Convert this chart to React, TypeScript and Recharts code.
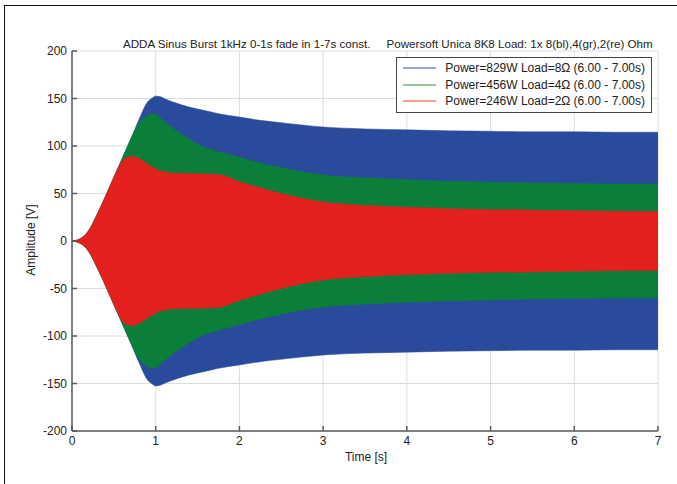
import React from 'react';
import { ComposedChart, Area, XAxis, YAxis, CartesianGrid, Legend } from 'recharts';

// time axis [s] and upper envelope of each burst [V] (signal is symmetric around 0)
const time = [0, 0.1, 0.2, 0.3, 0.4, 0.5, 0.6, 0.65, 0.7, 0.8, 0.9, 0.95, 1.0, 1.05, 1.1, 1.2, 1.4, 1.6, 1.75, 2.0, 2.25, 2.5, 3.0, 3.5, 4.0, 4.5, 5.0, 5.5, 6.0, 6.5, 7.0];
const blue8 = [0, 2.5, 11, 28, 47, 67, 87, 97, 107, 128, 146, 150, 152.5, 152, 150, 146.5, 141, 137, 134, 130.5, 127, 124.5, 120, 118, 117, 116, 115.5, 115, 115, 114.5, 114.5];
const green4 = [0, 2.5, 11, 28, 47, 67, 87, 97, 107, 124, 132, 134, 133.5, 130, 126, 119, 107, 98, 94, 88, 82, 77, 69.5, 66.5, 64.5, 63, 62, 61, 60.5, 60, 60];
const red2 = [0, 2.5, 11, 28, 47, 67, 84, 88, 89, 87, 81, 78.5, 76, 74, 73, 71.5, 71, 70.5, 70, 62.5, 56, 50, 41, 37.5, 35.5, 34, 33, 32.5, 31.8, 31.2, 31];

const xTicks = [0, 1, 2, 3, 4, 5, 6, 7];
const yTicks = [-200, -150, -100, -50, 0, 50, 100, 150, 200];

const seriesNames = [
  'Power=829W Load=8\u03a9 (6.00 - 7.00s)',
  'Power=456W Load=4\u03a9 (6.00 - 7.00s)',
  'Power=246W Load=2\u03a9 (6.00 - 7.00s)',
];

const fills = ['#2a4b9b', '#0b7f3a', '#e2211f'];
const legendLines = ['#9aa3dc', '#9cc49c', '#f5a08c'];

const data = time.map((t, i) => ({
  t,
  b: [-blue8[i], blue8[i]],
  g: [-green4[i], green4[i]],
  r: [-red2[i], red2[i]],
}));

const font = '"Liberation Sans", Arial, sans-serif';
const axisColor = '#5a5a5a';

function LegendBox() {
  return (
    <div
      style={{
        border: '1.5px solid #444',
        background: '#fff',
        padding: '2px 6px 2px 6px',
        fontFamily: font,
        fontSize: 12,
        color: '#222',
        width: 242,
      }}
    >
      {seriesNames.map((n, i) => (
        <div key={n} style={{ display: 'flex', alignItems: 'center', height: 16.5 }}>
          <div style={{ width: 39, height: 0, borderTop: `2px solid ${legendLines[i]}`, marginRight: 9 }} />
          <span style={{ whiteSpace: 'nowrap' }}>{n}</span>
        </div>
      ))}
    </div>
  );
}

export default function App() {
  return (
    <div style={{ position: 'absolute', left: 0, top: 0, width: 677, height: 484, overflow: 'hidden', background: '#fff' }}>
      <div style={{ position: 'absolute', left: 4, top: 5, width: 700, height: 500, border: '1.5px solid #111' }} />
      <div
        style={{
          position: 'absolute',
          left: 123,
          top: 37,
          fontFamily: font,
          fontSize: 11.6,
          color: '#222',
          whiteSpace: 'pre',
        }}
      >
        {'ADDA Sinus Burst 1kHz 0-1s fade in 1-7s const.     Powersoft Unica 8K8 Load: 1x 8(bl),4(gr),2(re) Ohm'}
      </div>
      <div
        style={{
          position: 'absolute',
          left: 31,
          top: 240,
          transform: 'translate(-50%, -50%) rotate(-90deg)',
          fontFamily: font,
          fontSize: 12,
          color: '#222',
          whiteSpace: 'nowrap',
        }}
      >
        Amplitude [V]
      </div>
      <div
        style={{
          position: 'absolute',
          left: 366,
          top: 457,
          transform: 'translate(-50%, -50%)',
          fontFamily: font,
          fontSize: 12,
          color: '#222',
          whiteSpace: 'nowrap',
        }}
      >
        Time [s]
      </div>
      <div style={{ position: 'absolute', left: 0, top: 0 }}>
        <ComposedChart
          width={677}
          height={484}
          data={data}
          margin={{ top: 51, right: 19, bottom: 23, left: 12 }}
        >
          <CartesianGrid stroke="#dcdcdc" strokeWidth={1} />
          <XAxis
            dataKey="t"
            type="number"
            domain={[0, 7]}
            ticks={xTicks}
            height={30}
            tickSize={-5}
            tickMargin={10}
            stroke={axisColor}
            strokeWidth={1.5}
            tick={{ fill: '#222', fontSize: 12, fontFamily: font }}
            allowDataOverflow
          />
          <XAxis
            xAxisId="top"
            orientation="top"
            dataKey="t"
            type="number"
            domain={[0, 7]}
            ticks={xTicks}
            height={0}
            tickSize={-5}
            tick={false}
            stroke={axisColor}
            strokeWidth={1.5}
          />
          <YAxis
            type="number"
            domain={[-200, 200]}
            ticks={yTicks}
            width={60}
            tickSize={-5}
            tickMargin={10}
            stroke={axisColor}
            strokeWidth={1.5}
            tick={{ fill: '#222', fontSize: 12, fontFamily: font }}
            allowDataOverflow
          />
          <YAxis
            yAxisId="right"
            orientation="right"
            type="number"
            domain={[-200, 200]}
            ticks={yTicks}
            width={0}
            tickSize={-5}
            tick={false}
            stroke={axisColor}
            strokeWidth={1.5}
          />
          <Area dataKey="b" type="monotone" fill={fills[0]} fillOpacity={1} stroke={fills[0]} strokeWidth={0.5} isAnimationActive={false} />
          <Area dataKey="g" type="monotone" fill={fills[1]} fillOpacity={1} stroke={fills[1]} strokeWidth={0.5} isAnimationActive={false} />
          <Area dataKey="r" type="monotone" fill={fills[2]} fillOpacity={1} stroke={fills[2]} strokeWidth={0.5} isAnimationActive={false} />
          <Legend
            layout="vertical"
            align="center"
            verticalAlign="middle"
            wrapperStyle={{ position: 'absolute', left: 396, top: 57, width: 'auto' }}
            content={() => <LegendBox />}
          />
        </ComposedChart>
      </div>
    </div>
  );
}
